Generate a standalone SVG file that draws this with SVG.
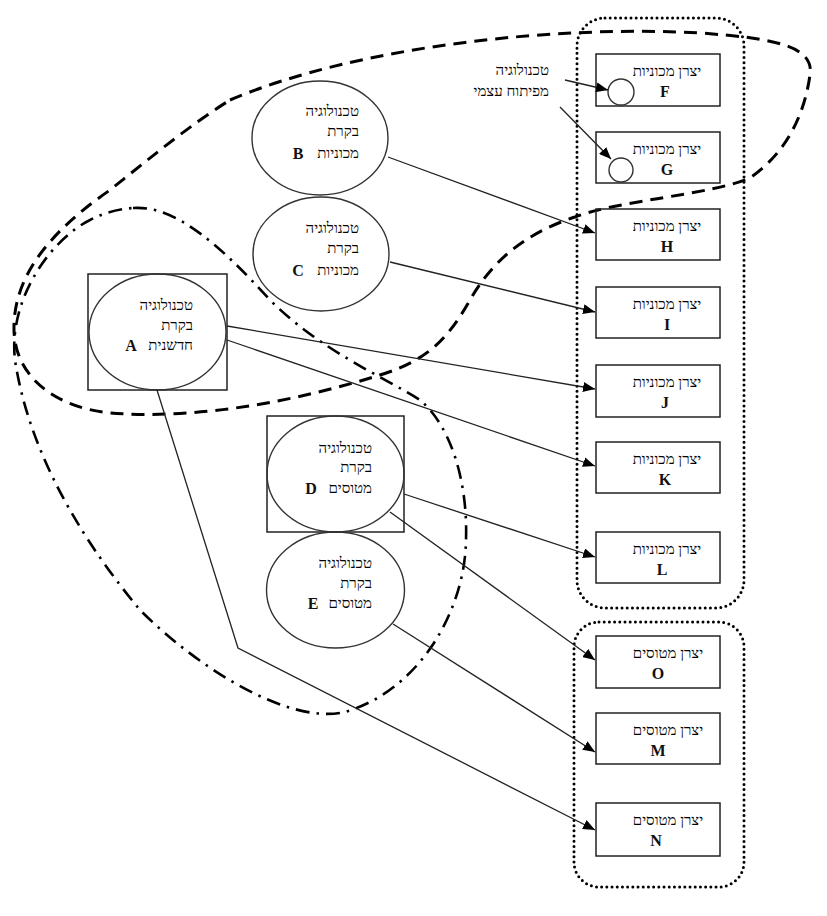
<svg xmlns="http://www.w3.org/2000/svg" width="827" height="916" viewBox="0 0 827 916">
<style>
.bg{fill:#fff}
.node{fill:none;stroke:#222;stroke-width:1.5}
.ell{fill:none;stroke:#333;stroke-width:1.4}
.he{font-family:"Liberation Serif","DejaVu Serif",serif;font-size:15px;fill:#000}
.lt{font-family:"Liberation Serif","DejaVu Serif",serif;font-size:16px;font-weight:bold;fill:#111}
.edge{fill:none;stroke:#222;stroke-width:1.3}
.dash{fill:none;stroke:#000;stroke-width:3;stroke-dasharray:13 8}
.dashdot{fill:none;stroke:#000;stroke-width:2.6;stroke-dasharray:14 7 2.5 7}
.dots{fill:none;stroke:#000;stroke-width:3;stroke-dasharray:0 5.2;stroke-linecap:round}
</style>
<defs>
<marker id="ah" markerUnits="userSpaceOnUse" markerWidth="13" markerHeight="10" refX="12" refY="5" orient="auto">
<path d="M0,0 L12,5 L0,10 z" fill="#000"/>
</marker>
</defs>
<rect class="bg" x="0" y="0" width="827" height="916"/>

<g id="groups">
<path class="dash" d="M230 100 C360 45 560 25 700 33 C770 38 815 45 810 75 C805 110 790 150 750 178 C710 195 620 200 575 217 C520 235 490 265 470 300 C450 335 430 360 380 375 C300 400 200 420 110 413 C60 408 15 380 14 330 C13 280 45 235 110 190 C150 158 190 125 230 100 Z"/>
<path class="dashdot" d="M133 208 C175 205 220 245 270 300 C320 350 380 375 420 400 C450 425 468 480 466 540 C465 610 420 690 345 712 C290 725 200 670 140 610 C90 550 30 460 15 360 C8 300 50 240 90 220 C105 212 120 209 133 208 Z"/>
<rect class="dots" x="577" y="18" width="167" height="590" rx="28"/>
<rect class="dots" x="574" y="622" width="170" height="265" rx="25"/>
</g>

<g id="nodeA">
<rect class="node" x="88" y="274" width="139" height="116"/>
<ellipse class="ell" cx="157.5" cy="332" rx="68.5" ry="58"/>
<text class="he" x="193" y="310" text-anchor="end">טכנולוגיה</text>
<text class="he" x="193" y="330" text-anchor="end">בקרת</text>
<text class="he" x="193" y="350" text-anchor="end">חדשנית</text>
<text class="lt" x="131" y="351" text-anchor="middle">A</text>
</g>
<g id="nodeB">
<ellipse class="ell" cx="320" cy="138" rx="68" ry="57"/>
<text class="he" x="359" y="116" text-anchor="end">טכנולוגיה</text>
<text class="he" x="359" y="136" text-anchor="end">בקרת</text>
<text class="he" x="359" y="158" text-anchor="end">מכוניות</text>
<text class="lt" x="298" y="159" text-anchor="middle">B</text>
</g>
<g id="nodeC">
<ellipse class="ell" cx="321" cy="254" rx="68" ry="57"/>
<text class="he" x="359" y="233" text-anchor="end">טכנולוגיה</text>
<text class="he" x="359" y="253" text-anchor="end">בקרת</text>
<text class="he" x="359" y="275" text-anchor="end">מכוניות</text>
<text class="lt" x="298" y="276" text-anchor="middle">C</text>
</g>
<g id="nodeD">
<rect class="node" x="267" y="416" width="137" height="116"/>
<ellipse class="ell" cx="335.5" cy="474" rx="68.5" ry="58"/>
<text class="he" x="372" y="453" text-anchor="end">טכנולוגיה</text>
<text class="he" x="372" y="472" text-anchor="end">בקרת</text>
<text class="he" x="372" y="493" text-anchor="end">מטוסים</text>
<text class="lt" x="311" y="494" text-anchor="middle">D</text>
</g>
<g id="nodeE">
<ellipse class="ell" cx="335.5" cy="590" rx="69" ry="58"/>
<text class="he" x="372" y="568" text-anchor="end">טכנולוגיה</text>
<text class="he" x="372" y="588" text-anchor="end">בקרת</text>
<text class="he" x="372" y="608" text-anchor="end">מטוסים</text>
<text class="lt" x="313" y="609" text-anchor="middle">E</text>
</g>

<g id="selfdev">
<text class="he" x="549" y="75" text-anchor="end">טכנולוגיה</text>
<text class="he" x="549" y="96" text-anchor="end">מפיתוח עצמי</text>
</g>

<g id="nodeF">
<rect class="node" x="596" y="54" width="124" height="52"/>
<circle class="ell" cx="621" cy="92" r="13"/>
<text class="he" x="667" y="76" text-anchor="middle">יצרן מכוניות</text>
<text class="lt" x="665" y="97" text-anchor="middle">F</text>
</g>
<g id="nodeG">
<rect class="node" x="596" y="132" width="124" height="51"/>
<circle class="ell" cx="621" cy="170" r="12"/>
<text class="he" x="667" y="154" text-anchor="middle">יצרן מכוניות</text>
<text class="lt" x="667" y="175" text-anchor="middle">G</text>
</g>
<g id="nodeH">
<rect class="node" x="596" y="209" width="124" height="51"/>
<text class="he" x="667" y="231" text-anchor="middle">יצרן מכוניות</text>
<text class="lt" x="667" y="252" text-anchor="middle">H</text>
</g>
<g id="nodeI">
<rect class="node" x="596" y="287" width="124" height="51"/>
<text class="he" x="667" y="309" text-anchor="middle">יצרן מכוניות</text>
<text class="lt" x="667" y="330" text-anchor="middle">I</text>
</g>
<g id="nodeJ">
<rect class="node" x="596" y="365" width="124" height="52"/>
<text class="he" x="667" y="387" text-anchor="middle">יצרן מכוניות</text>
<text class="lt" x="665" y="408" text-anchor="middle">J</text>
</g>
<g id="nodeK">
<rect class="node" x="596" y="442" width="124" height="51"/>
<text class="he" x="667" y="464" text-anchor="middle">יצרן מכוניות</text>
<text class="lt" x="665" y="485" text-anchor="middle">K</text>
</g>
<g id="nodeL">
<rect class="node" x="596" y="532" width="124" height="51"/>
<text class="he" x="667" y="554" text-anchor="middle">יצרן מכוניות</text>
<text class="lt" x="662" y="575" text-anchor="middle">L</text>
</g>
<g id="nodeO">
<rect class="node" x="596" y="636" width="124" height="52"/>
<text class="he" x="668" y="658" text-anchor="middle">יצרן מטוסים</text>
<text class="lt" x="658" y="679" text-anchor="middle">O</text>
</g>
<g id="nodeM">
<rect class="node" x="596" y="713" width="124" height="51"/>
<text class="he" x="668" y="735" text-anchor="middle">יצרן מטוסים</text>
<text class="lt" x="658" y="756" text-anchor="middle">M</text>
</g>
<g id="nodeN">
<rect class="node" x="596" y="803" width="124" height="53"/>
<text class="he" x="668" y="825" text-anchor="middle">יצרן מטוסים</text>
<text class="lt" x="656" y="846" text-anchor="middle">N</text>
</g>

<g id="connectors">
<line class="edge" x1="565" y1="80" x2="608" y2="90" marker-end="url(#ah)"/>
<line class="edge" x1="560" y1="107" x2="611" y2="159" marker-end="url(#ah)"/>
<line class="edge" x1="388" y1="157" x2="595" y2="233" marker-end="url(#ah)"/>
<line class="edge" x1="390" y1="262" x2="595" y2="312" marker-end="url(#ah)"/>
<line class="edge" x1="227" y1="326" x2="595" y2="389" marker-end="url(#ah)"/>
<line class="edge" x1="227" y1="340" x2="595" y2="466" marker-end="url(#ah)"/>
<line class="edge" x1="404" y1="494" x2="595" y2="557" marker-end="url(#ah)"/>
<line class="edge" x1="390" y1="512" x2="595" y2="660" marker-end="url(#ah)"/>
<line class="edge" x1="393" y1="624" x2="595" y2="752" marker-end="url(#ah)"/>
<polyline class="edge" points="157,390 238,648 595,830" marker-end="url(#ah)"/>
</g>
</svg>
